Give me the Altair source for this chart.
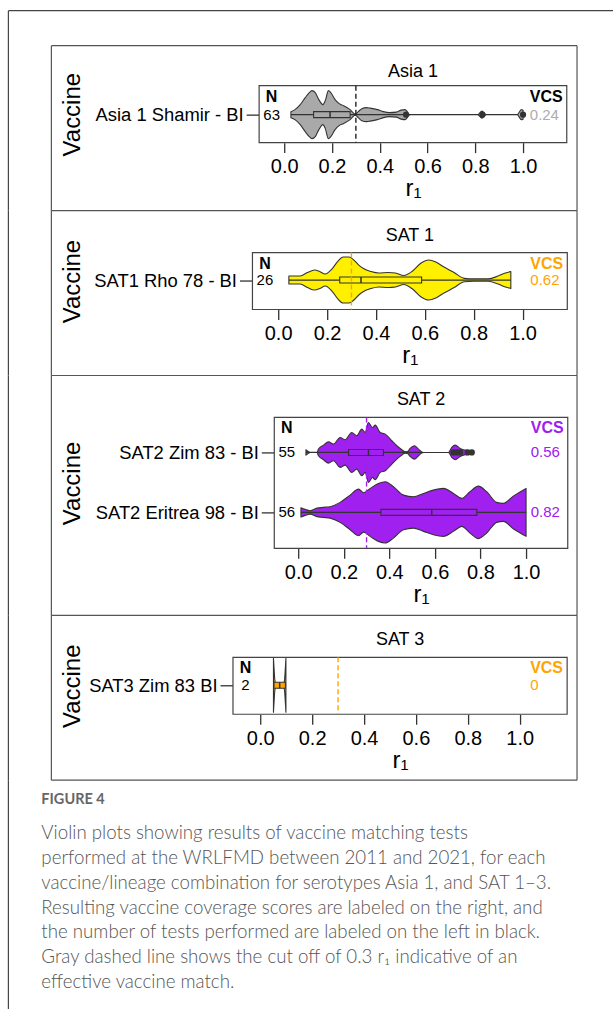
import json
import altair as alt
import pandas as pd

FONT = "Liberation Sans"
CAP_FONT = "Lato"

# ---------------- data ----------------
serotypes = ["Asia 1", "SAT 1", "SAT 2", "SAT 3"]
asia_vaccines = ["Asia 1 Shamir - BI"]
sat1_vaccines = ["SAT1 Rho 78 - BI"]
sat2_vaccines = ["SAT2 Zim 83 - BI", "SAT2 Eritrea 98 - BI"]
sat3_vaccines = ["SAT3 Zim 83 BI"]
asia_n = [63]
sat1_n = [26]
sat2_n = [55, 56]
sat3_n = [2]
asia_vcs = ["0.24"]
sat1_vcs = ["0.62"]
sat2_vcs = ["0.56", "0.82"]
sat3_vcs = ["0"]
x_ticks = [0.0, 0.2, 0.4, 0.6, 0.8, 1.0]
cutoff = [0.3]

# violin outlines: r1 value and relative half-width
asia_r = [0.028, 0.045, 0.067, 0.088, 0.105, 0.116, 0.13, 0.145, 0.162, 0.172, 0.185, 0.195,
          0.213, 0.23, 0.248, 0.276, 0.297, 0.31, 0.325, 0.345, 0.36, 0.39, 0.415, 0.44, 0.47,
          0.49, 0.506, 0.515, 0.522, 0.53, 0.81, 0.828, 0.845, 0.975, 0.993, 1.0]
asia_w = [3, 5, 10, 17, 22, 24, 22, 15, 10, 14, 24, 22,
          15, 11, 9, 5, 0.5, 3, 6, 7, 6.5, 5, 3, 2, 2.5,
          4.5, 5, 3, 0.5, 0, 0, 3.5, 0, 0, 5, 4.5]

sat1_r = [0.044, 0.09, 0.12, 0.149, 0.17, 0.193, 0.22, 0.245, 0.266, 0.29, 0.31, 0.33, 0.353,
          0.38, 0.412, 0.45, 0.48, 0.514, 0.55, 0.585, 0.616, 0.645, 0.675, 0.72, 0.762, 0.8,
          0.86, 0.9, 0.93, 0.952]
sat1_w = [4, 4, 7.5, 10, 8.5, 6, 11, 19, 23, 23, 20, 15, 11,
          8.5, 7, 7.5, 7, 4.5, 9, 17, 20, 18, 13.5, 7.5, 1.7, 1.2,
          1.2, 4, 7, 8.5]

sat2_zim_r = [0.034, 0.053, 0.082, 0.089, 0.111, 0.133, 0.155, 0.184, 0.206, 0.235, 0.257,
              0.279, 0.294, 0.308, 0.326, 0.338, 0.36, 0.382, 0.411, 0.433, 0.455, 0.469,
              0.48, 0.491, 0.51, 0.528, 0.542, 0.55, 0.659, 0.674, 0.689, 0.711, 0.725,
              0.744, 0.762]
sat2_zim_w = [2.7, 0, 0, 3.3, 7.3, 10.7, 8.3, 15, 12.7, 20, 16.7,
              23.3, 20, 30, 25, 27.3, 20, 18.3, 11.7, 6.7, 2.7, 0.7,
              1, 4, 6.7, 3.3, 0.5, 0, 0, 5, 7.3, 4, 2.7,
              2, 0.5]

sat2_eri_r = [0.012, 0.03, 0.053, 0.079, 0.11, 0.14, 0.184, 0.228, 0.265, 0.287, 0.316, 0.352,
              0.382, 0.418, 0.462, 0.506, 0.55, 0.593, 0.637, 0.681, 0.718, 0.754, 0.791,
              0.827, 0.871, 0.9, 0.944, 1.0]
sat2_eri_w = [4.7, 3, 1.7, 4, 5, 5.7, 10, 17.3, 23.3, 19.7, 24, 29,
              30.7, 25.7, 17.3, 15.7, 19, 22.3, 24, 19, 14, 20.7, 26.3,
              20.7, 10, 9, 16.3, 24]

sat3_r = [0.051, 0.053, 0.056, 0.06, 0.065, 0.085, 0.09, 0.094, 0.097, 0.099]
sat3_w = [27, 18, 6, 1, 0, 0, 1, 6, 18, 27]

# box statistics: q1, median, q3, whisker low, whisker high
asia_box = [0.123, 0.192, 0.276, 0.028, 0.506]
sat1_box = [0.252, 0.339, 0.587, 0.044, 0.952]
sat2_zim_box = [0.221, 0.308, 0.374, 0.034, 0.542]
sat2_eri_box = [0.363, 0.586, 0.784, 0.012, 1.0]
sat3_box = [0.053, 0.075, 0.097, 0.051, 0.099]

asia_outliers = [0.51, 0.83, 1.0]
sat2_zim_outliers = [0.681, 0.696, 0.711, 0.744, 0.762]

caption_head = "FIGURE 4"
caption_lines = [
    "Violin plots showing results of vaccine matching tests",
    "performed at the WRLFMD between 2011 and 2021, for each",
    "vaccine/lineage combination for serotypes Asia 1, and SAT 1\u20133.",
    "Resulting vaccine coverage scores are labeled on the right, and",
    "the number of tests performed are labeled on the left in black.",
    "Gray dashed line shows the cut off of 0.3 r\u2081 indicative of an",
    "effective vaccine match.",
]

# ---------------- layout (absolute pixels of the picture) ----------------
PAGE_L, PAGE_T, PAGE_R = 8, 10, 613
FRAME_L, FRAME_R = 51, 577
BOX_R_DATA = 1.183   # right edge of every inner box, in r1 units
BOX_L_DATA = -0.105  # left edge of every inner box
ROW_PX = 60.0
BOX_HALF = 3.0
DARK = "#333333"
FRAME_COL = "#555555"
PAGE_COL = "#444444"
LW = 1.2
PW = PAGE_R - PAGE_L   # plot width of every block

one = pd.DataFrame({"k": [0]})


def hrule(x0, x1, y, color=FRAME_COL):
    return alt.Chart(one).mark_rule(color=color, strokeWidth=LW).encode(
        x=alt.value(x0), x2=alt.value(x1), y=alt.value(y))


def vrule(x, y0, y1, color=FRAME_COL):
    return alt.Chart(one).mark_rule(color=color, strokeWidth=LW).encode(
        x=alt.value(x), y=alt.value(y0), y2=alt.value(y1))


def panel(title, vaccines, ns, vcs_vals, violins, boxes, outliers, fill, vcs_head,
          vcs_col, dash_col, g):
    top, bot = g["ptop"], g["pbot"]
    H = bot - top
    zero, ppu = g["zero"], g["ppu"]
    xdom = [(PAGE_L - zero) / ppu, (PAGE_R - zero) / ppu]
    row0 = g["row0"]
    ydom = [(top - row0) / ROW_PX, (bot - row0) / ROW_PX]
    box_l = zero + BOX_L_DATA * ppu
    box_r = zero + BOX_R_DATA * ppu
    box_t, box_b = g["btop"], g["bbot"]
    box_cx = (box_l + box_r) / 2 - PAGE_L

    xs = alt.Scale(domain=xdom, nice=False, zero=False)
    ys = alt.Scale(domain=ydom, reverse=True, nice=False, zero=False)
    xaxis = alt.Axis(values=x_ticks, format=".1f", grid=False, domain=False, tickSize=10,
                     tickColor=DARK, tickWidth=1.3, labelFontSize=20, labelFont=FONT,
                     labelColor="black", labelPadding=4, labelFlush=False,
                     offset=-(bot - box_b), title="r\u2081",
                     titleFont=FONT, titleFontSize=24, titleFontWeight="normal",
                     titleColor="black", titlePadding=0, titleX=box_cx,
                     titleAlign="center")
    yaxis = alt.Axis(values=list(range(len(vaccines))),
                     labelExpr=json.dumps(vaccines) + "[datum.value]", grid=False,
                     domain=False, tickSize=13, tickColor=DARK, tickWidth=1.3,
                     labelFontSize=18.4, labelFont=FONT, labelColor="black", labelPadding=3,
                     offset=-(box_l - PAGE_L),
                     title="Vaccine", titleFont=FONT, titleFontSize=24,
                     titleFontWeight="normal", titleColor="black", titleAngle=270,
                     titleAlign="center", titleBaseline="middle",
                     titleX=71.7 - box_l, titleY=(box_t + box_b) / 2 - top)

    def X(f):
        return alt.X(f, type="quantitative", scale=xs, axis=xaxis)

    def Y(f):
        return alt.Y(f, type="quantitative", scale=ys, axis=yaxis)

    vdf = pd.concat([pd.DataFrame({"r": r, "w": w, "row": i})
                     for i, (r, w) in enumerate(violins)], ignore_index=True)
    bdf = pd.DataFrame([{"q1": b[0], "med": b[1], "q3": b[2], "wlo": b[3], "whi": b[4],
                         "row": i} for i, b in enumerate(boxes)])
    odf = pd.DataFrame([{"r": v, "row": i} for i, outs in enumerate(outliers) for v in outs])
    ldf = pd.DataFrame({"row": list(range(len(vaccines))), "n": [str(n) for n in ns],
                        "vcs": vcs_vals})
    cdf = pd.DataFrame({"cut": cutoff})
    frame_df = pd.DataFrame({"x0": [BOX_L_DATA], "x1": [BOX_R_DATA],
                             "y0": [(box_t - row0) / ROW_PX], "y1": [(box_b - row0) / ROW_PX]})

    layers = []
    # inner plotting box
    layers.append(alt.Chart(frame_df).mark_rect(fill="white", stroke="#444444",
                                                strokeWidth=LW).encode(
        x=X("x0"), x2="x1", y=Y("y0"), y2="y1"))
    layers.append(
        alt.Chart(vdf).transform_calculate(
            lo=f"datum.row - datum.w / {ROW_PX}", hi=f"datum.row + datum.w / {ROW_PX}"
        ).mark_area(interpolate="monotone", fill=fill, stroke=DARK, strokeWidth=1.1,
                    strokeJoin="round").encode(x=X("r"), y=Y("lo"), y2="hi", detail="row:N")
    )
    layers.append(alt.Chart(bdf).mark_rule(color=DARK, strokeWidth=1.2).encode(
        x=X("wlo"), x2="whi", y=Y("row")))
    layers.append(alt.Chart(bdf).transform_calculate(
        b0=f"datum.row - {BOX_HALF / ROW_PX}", b1=f"datum.row + {BOX_HALF / ROW_PX}"
    ).mark_rect(fill=fill, stroke=DARK, strokeWidth=1.1).encode(
        x=X("q1"), x2="q3", y=Y("b0"), y2="b1"))
    layers.append(alt.Chart(bdf).transform_calculate(
        b0=f"datum.row - {BOX_HALF / ROW_PX}", b1=f"datum.row + {BOX_HALF / ROW_PX}"
    ).mark_rule(color=DARK, strokeWidth=1.5).encode(x=X("med"), y=Y("b0"), y2="b1"))
    if len(odf):
        layers.append(alt.Chart(odf).mark_circle(color=DARK, size=38, opacity=1).encode(
            x=X("r"), y=Y("row")))
    layers.append(alt.Chart(cdf).mark_rule(color=dash_col, strokeWidth=1.4,
                                           strokeDash=[5, 3]).encode(
        x=X("cut"), y=alt.value(box_t - top), y2=alt.value(box_b - top)))
    # panel title
    layers.append(alt.Chart(one).mark_text(text=title, font=FONT, fontSize=18, color="black",
                                           align="center", baseline="middle").encode(
        x=alt.value(box_cx), y=alt.value(g["title"] - top)))
    # labels: N and VCS
    nx = box_l + 12.5 - PAGE_L
    vx = box_r - 37 - PAGE_L
    hy = box_t + 11 - top
    layers.append(alt.Chart(one).mark_text(text="N", font=FONT, fontSize=16, fontWeight="bold",
                                           color="black", align="center", baseline="middle")
                  .encode(x=alt.value(nx), y=alt.value(hy)))
    layers.append(alt.Chart(ldf).mark_text(font=FONT, fontSize=15, color="black",
                                           align="center", baseline="middle")
                  .encode(x=alt.value(nx), y=Y("row"), text="n:N"))
    layers.append(alt.Chart(one).mark_text(text="VCS", font=FONT, fontSize=16,
                                           fontWeight="bold", color=vcs_head, align="left",
                                           baseline="middle")
                  .encode(x=alt.value(vx), y=alt.value(hy)))
    layers.append(alt.Chart(ldf).mark_text(font=FONT, fontSize=15, color=vcs_col,
                                           align="left", baseline="middle")
                  .encode(x=alt.value(vx), y=Y("row"), text="vcs:N"))
    # frame and page lines (decoration)
    fx0, fx1 = FRAME_L - PAGE_L, FRAME_R - PAGE_L
    fy0 = (45 if g.get("first") else top) - top
    layers.append(hrule(fx0, fx1, fy0))
    layers.append(vrule(fx0, fy0, H))
    layers.append(vrule(fx1, fy0, H))
    layers.append(vrule(0, 0, H, PAGE_COL))
    if g.get("first"):
        layers.append(hrule(0, PW, 0, PAGE_COL))
    if g.get("last"):
        layers.append(hrule(fx0, fx1, H))

    return alt.layer(*layers).properties(
        width=PW, height=H,
        view=alt.ViewBackground(strokeOpacity=0),
    )


geo = [
    dict(ptop=PAGE_T, pbot=210, zero=284.0, ppu=239.0, row0=114, btop=85, bbot=142,
         title=71.7, first=True),
    dict(ptop=210, pbot=375, zero=277.9, ppu=244.6, row0=279.5, btop=252, bbot=309,
         title=235),
    dict(ptop=375, pbot=615, zero=298.0, ppu=228.0, row0=452, btop=417, bbot=548,
         title=400),
    dict(ptop=615, pbot=780, zero=260.0, ppu=259.6, row0=685, btop=657, bbot=714,
         title=640, last=True),
]

p1 = panel(serotypes[0], asia_vaccines, asia_n, asia_vcs, [(asia_r, asia_w)], [asia_box],
           [asia_outliers], "#A9A9A9", "black", "#ADADAD", "#222222", geo[0])
p2 = panel(serotypes[1], sat1_vaccines, sat1_n, sat1_vcs, [(sat1_r, sat1_w)], [sat1_box],
           [[]], "#FFF000", "#FFA500", "#FFA500", "#FFA500", geo[1])
p3 = panel(serotypes[2], sat2_vaccines, sat2_n, sat2_vcs,
           [(sat2_zim_r, sat2_zim_w), (sat2_eri_r, sat2_eri_w)],
           [sat2_zim_box, sat2_eri_box], [sat2_zim_outliers, []],
           "#A020F0", "#A020F0", "#A020F0", "#A020F0", geo[2])
p4 = panel(serotypes[3], sat3_vaccines, sat3_n, sat3_vcs, [(sat3_r, sat3_w)], [sat3_box],
           [[]], "#FFA500", "#FFA500", "#FFA500", "#FFA500", geo[3])

# caption block
CAP_TOP, CAP_BOT = 780, 1009
CAP_H = CAP_BOT - CAP_TOP
cap = alt.layer(
    alt.Chart(one).mark_rule(color=PAGE_COL, strokeWidth=LW).encode(
        x=alt.value(0), y=alt.value(0), y2=alt.value(CAP_H)),
    alt.Chart(one).mark_text(text=caption_head, font=CAP_FONT, fontSize=14.5,
                             fontWeight="bold", color="#666666", align="left",
                             baseline="middle").encode(
        x=alt.value(41 - PAGE_L), y=alt.value(800 - CAP_TOP)),
    alt.Chart(one).mark_text(font=CAP_FONT, fontSize=18.7, fontWeight=300, color="#555555",
                             align="left", baseline="alphabetic", lineHeight=24.8).encode(
        x=alt.value(41 - PAGE_L), y=alt.value(839 - CAP_TOP), text=alt.value(caption_lines)),
).properties(width=PW, height=CAP_H, view=alt.ViewBackground(strokeOpacity=0))

chart = alt.vconcat(p1, p2, p3, p4, cap, spacing=0, bounds="flush").properties(
    padding={"left": PAGE_L - 0.6, "top": PAGE_T - 0.6, "right": 0, "bottom": 0},
).configure(background="white")

chart.save("out.html", embed_options={"renderer": "svg", "actions": False})
